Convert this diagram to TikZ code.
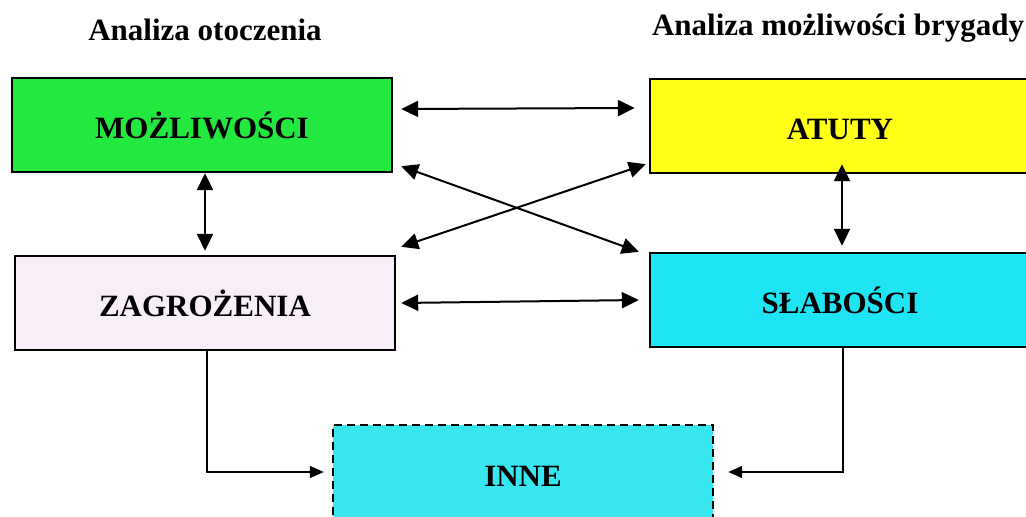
\documentclass[tikz,border=0pt]{standalone}
\usepackage{fontspec}
\setmainfont{Liberation Serif}
\usetikzlibrary{arrows.meta}

\definecolor{cgreen}{RGB}{34,232,64}
\definecolor{cyellow}{RGB}{255,255,24}
\definecolor{cpink}{RGB}{248,238,248}
\definecolor{ccyan}{RGB}{30,228,244}
\definecolor{cinne}{RGB}{56,230,240}

\begin{document}
\begin{tikzpicture}[x=0.5pt, y=-0.5pt,
		box/.style = {draw, line width=1.2pt, minimum width=190pt, minimum height=47pt, text height=14pt, text depth=0pt, font=\fontsize{15.5}{18}\selectfont\bfseries},
		title/.style = {font=\fontsize{15.5}{18}\selectfont\bfseries},
		link/.style = {{Triangle[length=8.5pt,width=8pt]}-{Triangle[length=8.5pt,width=8pt]}, line width=1pt},
		feed/.style = {-{Triangle[length=7pt,width=6pt]}, line width=0.7pt}]
		\useasboundingbox (0,0) rectangle (1026,517);
		\node[title] (otocz) at (205,30) {Analiza otoczenia};
		\node[title] (bryg) at (838,28) {Analiza możliwości brygady};
		
		\node[box, fill=cgreen] (mozl) at (202,125) {MOŻLIWOŚCI};
		\node[box, fill=cyellow] (atuty) at (840,126) {ATUTY};
		\node[box, fill=cpink] (zagr) at (205,303) {ZAGROŻENIA};
		\node[box, fill=ccyan] (slab) at (840,300) {SŁABOŚCI};
		\node[box, fill=cinne, dash pattern=on 4pt off 2.5pt] (inne) at (523,472) {INNE};
		
		\draw[link] ([xshift=4pt,yshift=8pt]mozl.east) -- ([xshift=-7pt,yshift=9pt]atuty.west);
		\draw[link] ([xshift=4pt,yshift=3.5pt]mozl.south east) -- ([xshift=-5pt]slab.north west);
		\draw[link] ([xshift=2.5pt,yshift=4pt]zagr.north east) -- ([xshift=-1.5pt,yshift=5pt]atuty.south west);
		\draw[link] ([xshift=2.5pt]zagr.east) -- ([xshift=-5pt]slab.west);
		\draw[link] ([xshift=1.5pt]mozl.south) -- ([yshift=2pt]zagr.north);
		\draw[link] ([xshift=1pt,yshift=5pt]atuty.south) -- ([xshift=1pt,yshift=3pt]slab.north);
		
		\draw[feed] ([xshift=1pt]zagr.south) |- ([xshift=-4pt]inne.west);
		\draw[feed] ([xshift=1.5pt]slab.south) |- ([xshift=7pt]inne.east);
	\end{tikzpicture}
\end{document}
